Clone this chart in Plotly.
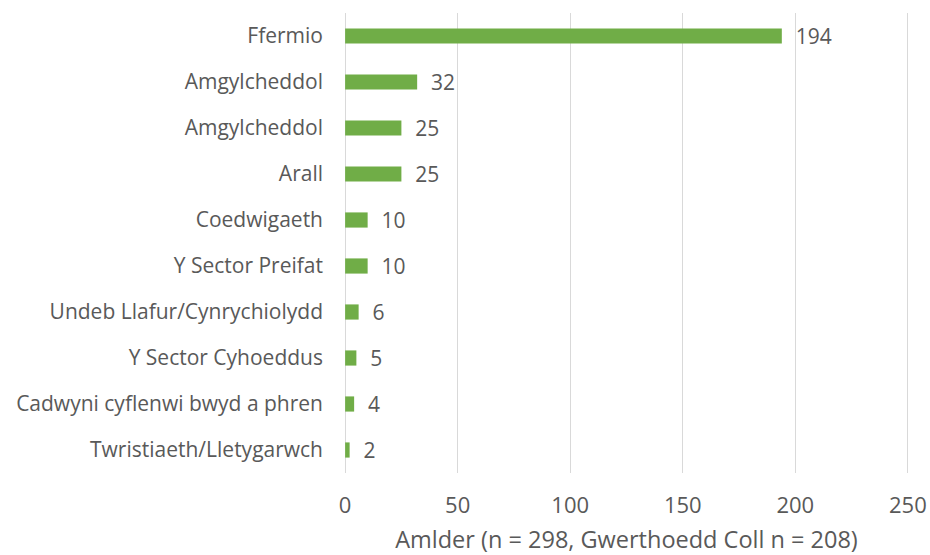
import plotly.graph_objects as go

categories = ["Ffermio", "Amgylcheddol", "Amgylcheddol", "Arall", "Coedwigaeth",
              "Y Sector Preifat", "Undeb Llafur/Cynrychiolydd", "Y Sector Cyhoeddus",
              "Cadwyni cyflenwi bwyd a phren", "Twristiaeth/Lletygarwch"]
values = [194, 32, 25, 25, 10, 10, 6, 5, 4, 2]
x_ticks = [0, 50, 100, 150, 200, 250]
x_title = "Amlder (n = 298, Gwerthoedd Coll n = 208)"

positions = list(range(len(categories)))
font_family = "Open Sans, Segoe UI, Arial, sans-serif"
grey = "#595959"

fig = go.Figure(go.Bar(
    x=values, y=positions, orientation="h",
    marker=dict(color="#70AD47", line=dict(width=0)),
    width=0.33,
    text=["  " + str(v) for v in values],
    textposition="outside",
    constraintext="none",
    textfont=dict(family=font_family, size=21, color=grey),
    cliponaxis=False,
    hoverinfo="skip",
))

fig.update_layout(
    width=930, height=555,
    margin=dict(l=344, r=21, t=13, b=82, autoexpand=False),
    plot_bgcolor="white", paper_bgcolor="white",
    showlegend=False,
    xaxis=dict(range=[-0.5, 250.5], tickvals=x_ticks, showgrid=True, gridcolor="#d9d9d9",
               gridwidth=1, zeroline=False, showline=False, automargin=False,
               tickfont=dict(family=font_family, size=22, color=grey),
               ticklabelstandoff=17,
               title=dict(text=x_title, font=dict(family=font_family, size=23.5, color=grey),
                          standoff=30)),
    yaxis=dict(tickvals=positions, ticktext=categories, autorange=False,
               range=[len(categories) - 0.5, -0.5], automargin=False,
               showgrid=False, zeroline=False, showline=False,
               tickfont=dict(family=font_family, size=21, color=grey),
               ticklabelstandoff=20),
)

fig.write_html(
    "out.html",
    config={"displayModeBar": False},
    post_script="document.body.style.margin='0';document.body.style.overflow='hidden';",
)
